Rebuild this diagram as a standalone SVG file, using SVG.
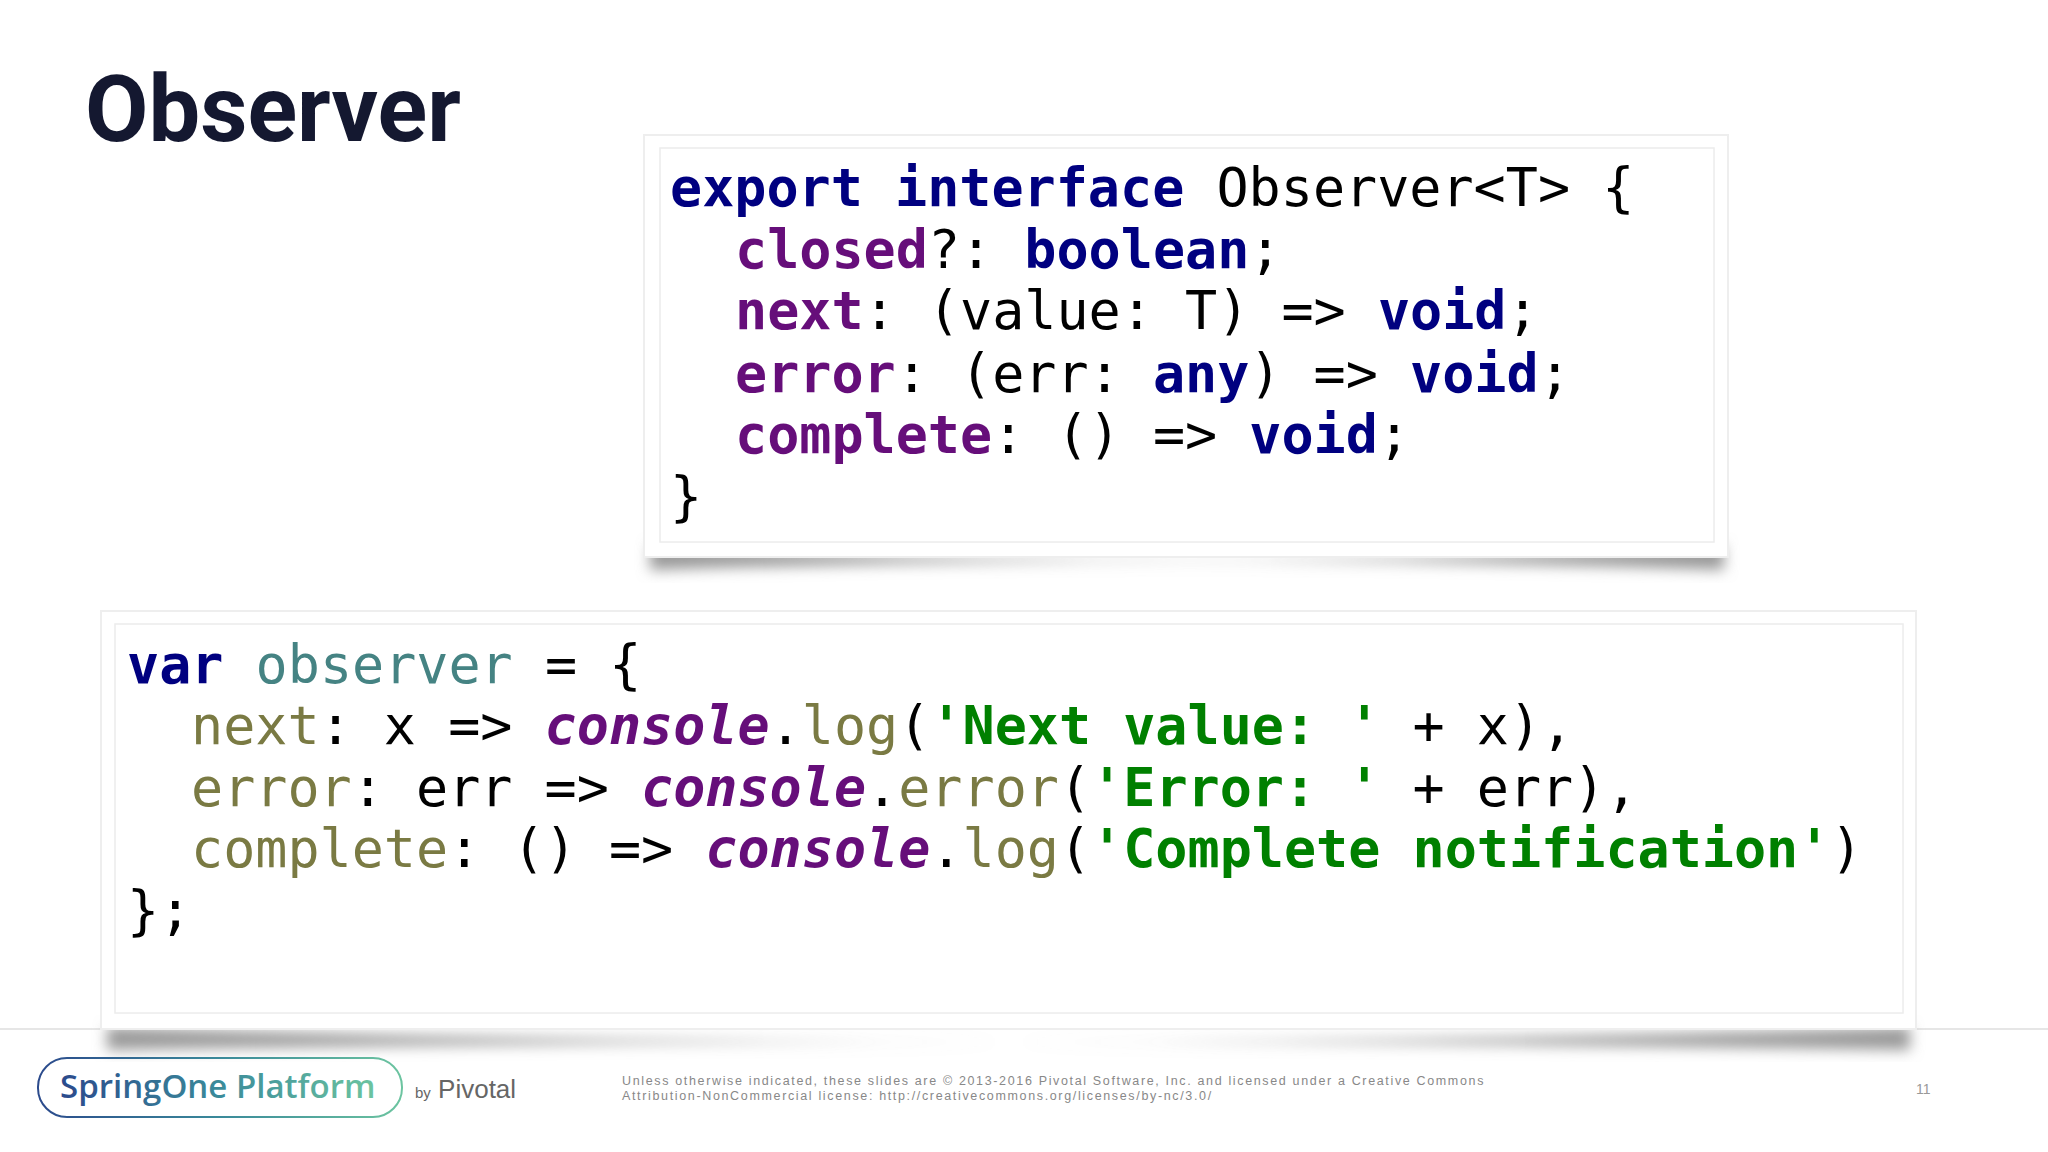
<svg xmlns="http://www.w3.org/2000/svg" width="2048" height="1152" viewBox="0 0 2048 1152">
<defs>
<filter id="blur" x="-10%" y="-50%" width="120%" height="200%"><feGaussianBlur stdDeviation="7"/></filter>
<linearGradient id="lg" x1="0" y1="0" x2="1" y2="0"><stop offset="0" stop-color="#2b4a8c"/><stop offset="0.5" stop-color="#3a8a9a"/><stop offset="1" stop-color="#6cc4a0"/></linearGradient>
<style>
.code{font-family:"DejaVu Sans Mono",monospace;font-size:53.4px;white-space:pre}
.kw{fill:#000080;font-weight:bold}
.pr{fill:#660e7a;font-weight:bold}
.pl{fill:#000}
.tl{fill:#458383}
.ol{fill:#7a7a43}
.it{fill:#660e7a;font-weight:bold;font-style:italic}
.st{fill:#008000;font-weight:bold}
.box{fill:#fff;stroke:#eee;stroke-width:2}
.inner{fill:#fff;stroke:#ececec;stroke-width:1.5}
</style>
</defs>
<rect width="2048" height="1152" fill="#fff"/>
<text x="85" y="141" font-family="Roboto,'Liberation Sans',sans-serif" font-weight="bold" font-size="92" fill="#141830">Observer</text>
<line x1="0" y1="1029" x2="2048" y2="1029" stroke="#e6e6e6" stroke-width="2"/>

<g id="interface-box">
<path d="M650 545 Q1186 575 1724 545 L1724 570 Q1186 552 650 570 Z" fill="#999" filter="url(#blur)"/>
<rect class="box" x="644" y="135" width="1084" height="422"/>
<rect class="inner" x="660" y="148" width="1054" height="394"/>
<text class="code" x="670" y="206"><tspan class="kw">export interface</tspan><tspan class="pl"> Observer&lt;T&gt; {</tspan></text>
<text class="code" x="735" y="268"><tspan class="pr">closed</tspan><tspan class="pl">?: </tspan><tspan class="kw">boolean</tspan><tspan class="pl">;</tspan></text>
<text class="code" x="735" y="329"><tspan class="pr">next</tspan><tspan class="pl">: (value: T) =&gt; </tspan><tspan class="kw">void</tspan><tspan class="pl">;</tspan></text>
<text class="code" x="735" y="392"><tspan class="pr">error</tspan><tspan class="pl">: (err: </tspan><tspan class="kw">any</tspan><tspan class="pl">) =&gt; </tspan><tspan class="kw">void</tspan><tspan class="pl">;</tspan></text>
<text class="code" x="735" y="453"><tspan class="pr">complete</tspan><tspan class="pl">: () =&gt; </tspan><tspan class="kw">void</tspan><tspan class="pl">;</tspan></text>
<text class="code pl" x="670" y="515">}</text>
</g>

<g id="observer-box">
<path d="M107 1027 Q1008 1057 1910 1027 L1910 1050 Q1008 1034 107 1050 Z" fill="#999" filter="url(#blur)"/>
<rect class="box" x="101" y="611" width="1815" height="418"/>
<rect class="inner" x="115" y="624" width="1788" height="389"/>
<text class="code" x="127" y="683"><tspan class="kw">var</tspan><tspan class="pl"> </tspan><tspan class="tl">observer</tspan><tspan class="pl"> = {</tspan></text>
<text class="code" x="191" y="744"><tspan class="ol">next</tspan><tspan class="pl">: x =&gt; </tspan><tspan class="it">console</tspan><tspan class="pl">.</tspan><tspan class="ol">log</tspan><tspan class="pl">(</tspan><tspan class="st">'Next value: '</tspan><tspan class="pl"> + x),</tspan></text>
<text class="code" x="191" y="806"><tspan class="ol">error</tspan><tspan class="pl">: err =&gt; </tspan><tspan class="it">console</tspan><tspan class="pl">.</tspan><tspan class="ol">error</tspan><tspan class="pl">(</tspan><tspan class="st">'Error: '</tspan><tspan class="pl"> + err),</tspan></text>
<text class="code" x="191" y="867"><tspan class="ol">complete</tspan><tspan class="pl">: () =&gt; </tspan><tspan class="it">console</tspan><tspan class="pl">.</tspan><tspan class="ol">log</tspan><tspan class="pl">(</tspan><tspan class="st">'Complete notification'</tspan><tspan class="pl">)</tspan></text>
<text class="code pl" x="127" y="929">};</text>
</g>

<g id="footer">
<rect x="38" y="1058" width="364" height="59" rx="29" fill="none" stroke="url(#lg)" stroke-width="2"/>
<text x="60" y="1098" font-family="'Open Sans','Liberation Sans',sans-serif" font-weight="600" font-size="33" fill="url(#lg)">SpringOne Platform</text>
<text x="415" y="1098" font-family="'Liberation Sans',sans-serif" fill="#666"><tspan font-size="15">by</tspan><tspan font-size="26"> Pivotal</tspan></text>
<text font-family="'Liberation Sans',sans-serif" font-size="12.5" fill="#888" letter-spacing="1.65"><tspan x="622" y="1085">Unless otherwise indicated, these slides are © 2013-2016 Pivotal Software, Inc. and licensed under a Creative Commons</tspan><tspan x="622" y="1100">Attribution-NonCommercial license: http://creativecommons.org/licenses/by-nc/3.0/</tspan></text>
<text x="1916" y="1094" font-family="'Liberation Sans',sans-serif" font-size="14" fill="#999">11</text>
</g>
</svg>
